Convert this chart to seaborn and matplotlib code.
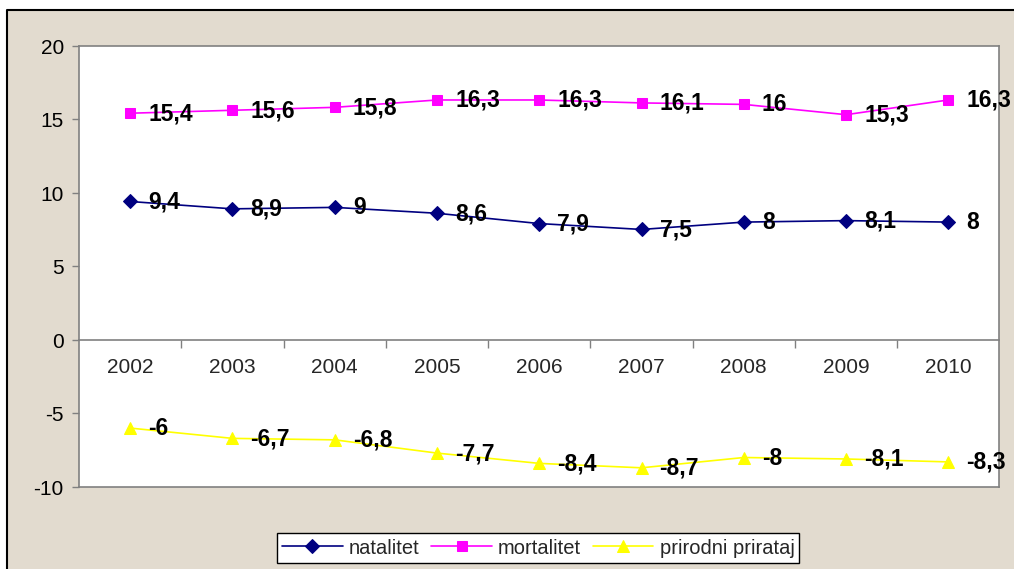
import numpy as np
import pandas as pd
import seaborn as sns
import matplotlib.pyplot as plt
from matplotlib.patches import Rectangle
from matplotlib.lines import Line2D

years = ["2002", "2003", "2004", "2005", "2006", "2007", "2008", "2009", "2010"]
natalitet = [9.4, 8.9, 9, 8.6, 7.9, 7.5, 8, 8.1, 8]
mortalitet = [15.4, 15.6, 15.8, 16.3, 16.3, 16.1, 16, 15.3, 16.3]
prirodni_prirataj = [-6, -6.7, -6.8, -7.7, -8.4, -8.7, -8, -8.1, -8.3]
series_names = ["natalitet", "mortalitet", "prirodni prirataj"]

sns.set_style("white")
plt.rcParams["font.family"] = ["Liberation Sans", "DejaVu Sans"]
plt.rcParams["axes.unicode_minus"] = False

# 10.145 so that int(width * dpi) is really 1014
fig = plt.figure(figsize=(10.145, 5.695), dpi=100)
fig.patch.set_facecolor("white")
fig.patch.set_edgecolor("none")
fig.patch.set_linewidth(0)
# paper-coloured backdrop with a black frame on the left and top
x0, y1 = 7 / 1014, 1 - 10 / 569
fig.add_artist(Rectangle((x0, 0), 1.2, y1, transform=fig.transFigure,
                         facecolor="#e2dbcf", edgecolor="none", linewidth=0,
                         zorder=-5))
fig.add_artist(Line2D([x0, x0, 1.2], [0, y1, y1], transform=fig.transFigure,
                      color="black", linewidth=1.5, zorder=-4))

ax = fig.add_axes([79 / 1014, 1 - 487 / 569, 920 / 1014, 441 / 569])
ax.set_zorder(2)
ax.set_facecolor("white")

pos = np.arange(len(years))
styles = [
    (natalitet, "#000080", "D", 7.5),
    (mortalitet, "#ff00ff", "s", 7),
    (prirodni_prirataj, "#ffff00", "^", 9),
]
for (vals, col, mk, ms), name in zip(styles, series_names):
    sns.lineplot(x=pos, y=vals, ax=ax, color=col, marker=mk, markersize=ms,
                 markeredgecolor=col, linewidth=1.2, label=name, zorder=3)
    for x, v in zip(pos, vals):
        txt = (f"{v:g}").replace(".", ",")
        ax.annotate(txt, (x, v), xytext=(13, 0), textcoords="offset points",
                    ha="left", va="center", fontsize=16.5, fontweight="bold",
                    color="black", zorder=4, annotation_clip=False)

ax.set_xlim(-0.5, len(years) - 0.5)
ax.set_ylim(-10, 20)
ax.set_yticks([-10, -5, 0, 5, 10, 15, 20])
ax.tick_params(axis="y", left=True, length=5, width=1, color="#808080",
               labelsize=15, pad=6, labelcolor="black")
ax.tick_params(axis="x", bottom=False, labelbottom=False)
for sp in ax.spines.values():
    sp.set_color("#808080")
    sp.set_linewidth(1.2)
ax.set_xlabel("")
ax.set_ylabel("")

sec = ax.secondary_xaxis(1 / 3)
sec.set_xticks(pos)
sec.set_xticklabels(years)
sec.set_xticks(pos[:-1] + 0.5, minor=True)
sec.tick_params(axis="x", which="major", length=0, labelsize=15, pad=13)
sec.tick_params(axis="x", which="minor", length=6, width=1, color="#808080",
                direction="out")
sec.spines["bottom"].set_color("#808080")
sec.spines["bottom"].set_linewidth(1.2)

handles, labels = ax.get_legend_handles_labels()
ax.legend(handles, labels, loc="center", ncol=3,
          bbox_to_anchor=(538 / 1014, 1 - 548 / 569),
          bbox_transform=fig.transFigure, frameon=True, fancybox=False,
          edgecolor="black", framealpha=1, fontsize=14.5, handlelength=3,
          handletextpad=0.3, columnspacing=0.6, borderpad=0.25)
ax.get_legend().get_frame().set_linewidth(1)

plt.savefig("out.png", dpi=100, facecolor="white", edgecolor="none")
